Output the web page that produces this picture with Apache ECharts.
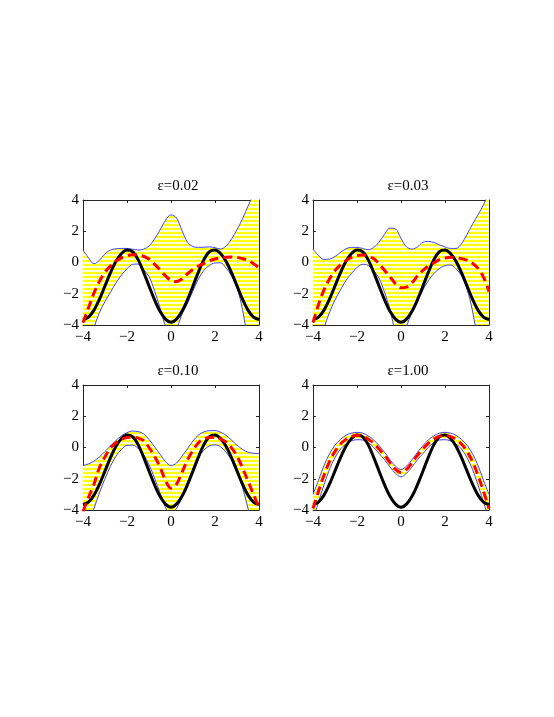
<!DOCTYPE html>
<html>
<head>
<meta charset="utf-8">
<script src="https://cdn.jsdelivr.net/npm/echarts@6/dist/echarts.min.js"></script>
<style>
  html, body { margin: 0; padding: 0; background: #fff; }
  #chart { width: 554px; height: 717px; }
</style>
</head>
<body>
<div id="chart"></div>
<script>
// x positions shared by every curve
var xs = [-4, -3.75, -3.5, -3.25, -3, -2.75, -2.5, -2.25, -2, -1.75, -1.5, -1.25, -1, -0.75, -0.5, -0.25,
  0, 0.25, 0.5, 0.75, 1, 1.25, 1.5, 1.75, 2, 2.25, 2.5, 2.75, 3, 3.25, 3.5, 3.75, 4]
var ticks = [-4, -2, 0, 2, 4]
var titles = ['ε=0.02', 'ε=0.03', 'ε=0.10', 'ε=1.00']

// true function (black)
var truth = [-3.65, -3.5, -3.05, -2.35, -1.5, -0.65, 0.08, 0.58, 0.8, 0.7, 0.2, -0.6, -1.5, -2.38, -3.12, -3.62,
  -3.82, -3.62, -3.12, -2.38, -1.5, -0.6, 0.2, 0.7, 0.8, 0.58, 0.08, -0.65, -1.5, -2.35, -3.05, -3.5, -3.65]

// eps = 0.02
var upper1 = [0.8, 0.3, -0.08, 0.15, 0.55, 0.8, 0.88, 0.9, 0.9, 0.85, 0.8, 0.85, 1.05, 1.5, 2.08, 2.7,
  3.05, 2.85, 2.05, 1.3, 1.02, 0.97, 0.98, 1.0, 0.95, 0.86, 1.05, 1.5, 2.1, 2.8, 3.6, 4.4, 5.3]
var lower1 = [-7, -5.8, -4.2, -3.2, -2.5, -1.9, -1.3, -0.8, -0.4, -0.12, -0.1, -0.45, -0.9, -1.8, -2.9, -4.1,
  -5.0, -4.3, -3.3, -2.6, -1.8, -1.05, -0.5, -0.18, -0.03, -0.02, -0.35, -0.85, -1.6, -3.0, -5.0, -6.5, -8]
var mean1 = [-3.85, -2.9, -1.95, -1.2, -0.62, -0.22, 0.08, 0.3, 0.43, 0.5, 0.48, 0.4, 0.22, -0.1, -0.47, -0.85,
  -1.15, -1.22, -1.05, -0.72, -0.45, -0.22, -0.05, 0.12, 0.22, 0.29, 0.33, 0.35, 0.33, 0.25, 0.13, -0.08, -0.33]

// eps = 0.03
var upper2 = [0.86, 0.45, 0.2, 0.22, 0.38, 0.65, 0.88, 0.97, 0.97, 0.9, 0.82, 0.95, 1.3, 1.8, 2.2, 2.15,
  1.55, 1.0, 0.86, 1.0, 1.3, 1.35, 1.28, 1.13, 1.0, 0.9, 0.9, 1.2, 1.8, 2.45, 3.05, 3.7, 4.5]
var lower2 = [-7, -5.6, -4.2, -3.2, -2.4, -1.75, -1.15, -0.7, -0.32, -0.12, -0.18, -0.5, -1.0, -1.9, -3.0, -4.5,
  -5.2, -4.1, -3.2, -2.5, -1.75, -1.15, -0.7, -0.38, -0.2, -0.16, -0.4, -0.85, -1.7, -3.1, -5.0, -6.5, -8]
var mean2 = [-3.85, -2.7, -1.75, -1.05, -0.52, -0.15, 0.12, 0.32, 0.44, 0.48, 0.42, 0.25, -0.08, -0.5, -0.92, -1.36,
  -1.62, -1.58, -1.3, -0.85, -0.5, -0.22, -0.02, 0.18, 0.28, 0.33, 0.32, 0.25, 0.15, -0.05, -0.38, -0.93, -1.85]

// eps = 0.10
var upper3 = [-1.15, -1.05, -0.87, -0.6, -0.25, 0.1, 0.45, 0.75, 0.95, 1.05, 1.02, 0.88, 0.52, 0.05, -0.42, -0.9,
  -1.15, -1.0, -0.55, -0.08, 0.42, 0.8, 1.0, 1.08, 1.08, 0.98, 0.78, 0.48, 0.15, -0.12, -0.3, -0.37, -0.38]
var lower3 = [-6.5, -5.0, -3.9, -2.9, -2.0, -1.2, -0.55, -0.12, 0.14, 0.15, -0.05, -0.45, -1.1, -1.95, -2.9, -3.85,
  -4.4, -3.9, -3.2, -2.25, -1.35, -0.65, -0.15, 0.1, 0.17, 0.05, -0.3, -0.8, -1.6, -2.55, -3.9, -5.2, -6.5]
var mean3 = [-4.1, -3.2, -2.35, -1.28, -0.6, -0.02, 0.3, 0.52, 0.64, 0.66, 0.6, 0.45, 0.0, -0.55, -1.25, -2.1,
  -2.6, -2.35, -1.6, -0.8, -0.18, 0.3, 0.55, 0.64, 0.66, 0.55, 0.35, -0.02, -0.55, -1.3, -2.15, -3.0, -3.85]

// eps = 1.00
var upper4 = [-3.0, -2.1, -1.15, -0.4, 0.15, 0.52, 0.78, 0.92, 0.97, 0.92, 0.75, 0.5, 0.12, -0.3, -0.78, -1.2,
  -1.4, -1.2, -0.78, -0.3, 0.12, 0.5, 0.75, 0.92, 0.97, 0.92, 0.78, 0.52, 0.15, -0.4, -1.15, -2.1, -3.0]
var lower4 = [-4.6, -3.5, -2.4, -1.4, -0.65, -0.1, 0.22, 0.42, 0.5, 0.48, 0.32, 0.02, -0.38, -0.78, -1.25, -1.65,
  -1.88, -1.65, -1.25, -0.78, -0.38, 0.02, 0.32, 0.48, 0.5, 0.42, 0.22, -0.1, -0.65, -1.4, -2.4, -3.5, -4.6]
var mean4 = [-3.9, -2.8, -1.78, -0.9, -0.25, 0.22, 0.52, 0.7, 0.78, 0.72, 0.55, 0.28, -0.1, -0.5, -0.98, -1.4,
  -1.6, -1.4, -0.98, -0.5, -0.1, 0.28, 0.55, 0.72, 0.78, 0.7, 0.52, 0.22, -0.25, -0.9, -1.78, -2.8, -3.9]

var panels = [
  { upper: upper1, lower: lower1, mean: mean1 },
  { upper: upper2, lower: lower2, mean: mean2 },
  { upper: upper3, lower: lower3, mean: mean3 },
  { upper: upper4, lower: lower4, mean: mean4 }
]

// striped yellow fill, like the printed matlab patch
var stripe = document.createElement('canvas')
stripe.width = 4
stripe.height = 4
var sctx = stripe.getContext('2d')
sctx.fillStyle = '#ffffd8'
sctx.fillRect(0, 0, 4, 4)
sctx.fillStyle = '#ffff10'
sctx.fillRect(0, 0, 4, 2)

var font = 'Liberation Serif, Times New Roman, serif'
var gridPos = [
  { left: 83, top: 200 },
  { left: 313, top: 200 },
  { left: 83, top: 385 },
  { left: 313, top: 385 }
]

function pairs (ys) {
  return xs.map(function (x, i) { return [x, ys[i]] })
}
function minus (v) {
  return String(v).replace('-', '\u2212')
}

var option = {
  animation: false,
  backgroundColor: '#ffffff',
  title: [],
  grid: [],
  xAxis: [],
  yAxis: [],
  series: []
}

for (let i = 0; i < 4; i++) {
  option.grid.push({ left: gridPos[i].left, top: gridPos[i].top, width: 176, height: 125, show: false })
  option.title.push({
    text: titles[i],
    left: gridPos[i].left + 90,
    top: gridPos[i].top - 26,
    textAlign: 'center',
    textStyle: { fontFamily: font, fontSize: 15, fontWeight: 'normal', color: '#000' }
  })
  // bottom / left axes with labels, top / right mirrors with ticks only
  ;['bottom', 'top'].forEach(function (pos) {
    option.xAxis.push({
      type: 'value',
      gridIndex: i,
      position: pos,
      min: -4,
      max: 4,
      interval: 2,
      axisLine: { show: true, onZero: false, lineStyle: { color: '#262626', width: 1 } },
      axisTick: { show: true, inside: true, length: 3, lineStyle: { color: '#262626' } },
      axisLabel: {
        show: pos === 'bottom',
        margin: 5,
        fontFamily: font,
        fontSize: 15,
        color: '#000',
        formatter: minus
      },
      splitLine: { show: false }
    })
  })
  ;['left', 'right'].forEach(function (pos) {
    option.yAxis.push({
      type: 'value',
      gridIndex: i,
      position: pos,
      min: -4,
      max: 4,
      interval: 2,
      axisLine: { show: true, onZero: false, lineStyle: { color: '#262626', width: 1 } },
      axisTick: { show: true, inside: true, length: 3, lineStyle: { color: '#262626' } },
      axisLabel: {
        show: pos === 'left',
        margin: 4,
        fontFamily: font,
        fontSize: 15,
        color: '#000',
        formatter: minus
      },
      splitLine: { show: false }
    })
  })

  var p = panels[i]
  var common = {
    type: 'line',
    xAxisIndex: i * 2,
    yAxisIndex: i * 2,
    symbol: 'none',
    smooth: 0.35,
    clip: true,
    silent: true
  }
  // yellow from the upper curve down, then white from the lower curve down
  option.series.push(Object.assign({}, common, {
    name: 'fillUp' + i,
    data: pairs(p.upper),
    lineStyle: { width: 0, opacity: 0 },
    areaStyle: { origin: 'start', color: { image: stripe, repeat: 'repeat' }, opacity: 1 },
    z: 1
  }))
  option.series.push(Object.assign({}, common, {
    name: 'fillLo' + i,
    data: pairs(p.lower),
    lineStyle: { width: 0, opacity: 0 },
    areaStyle: { origin: 'start', color: '#ffffff', opacity: 1 },
    z: 1
  }))
  option.series.push(Object.assign({}, common, {
    name: 'upper' + i,
    data: pairs(p.upper),
    lineStyle: { color: '#3030ff', width: 0.9 },
    z: 2
  }))
  option.series.push(Object.assign({}, common, {
    name: 'lower' + i,
    data: pairs(p.lower),
    lineStyle: { color: '#3030ff', width: 0.9 },
    z: 2
  }))
  option.series.push(Object.assign({}, common, {
    name: 'truth' + i,
    data: pairs(truth),
    lineStyle: { color: '#000000', width: 3 },
    z: 3
  }))
  option.series.push(Object.assign({}, common, {
    name: 'mean' + i,
    data: pairs(p.mean),
    lineStyle: { color: '#ff0000', width: 3, type: [9, 5] },
    z: 4
  }))
}

var myChart = echarts.init(document.getElementById('chart'))
myChart.setOption(option)
</script>
</body>
</html>
